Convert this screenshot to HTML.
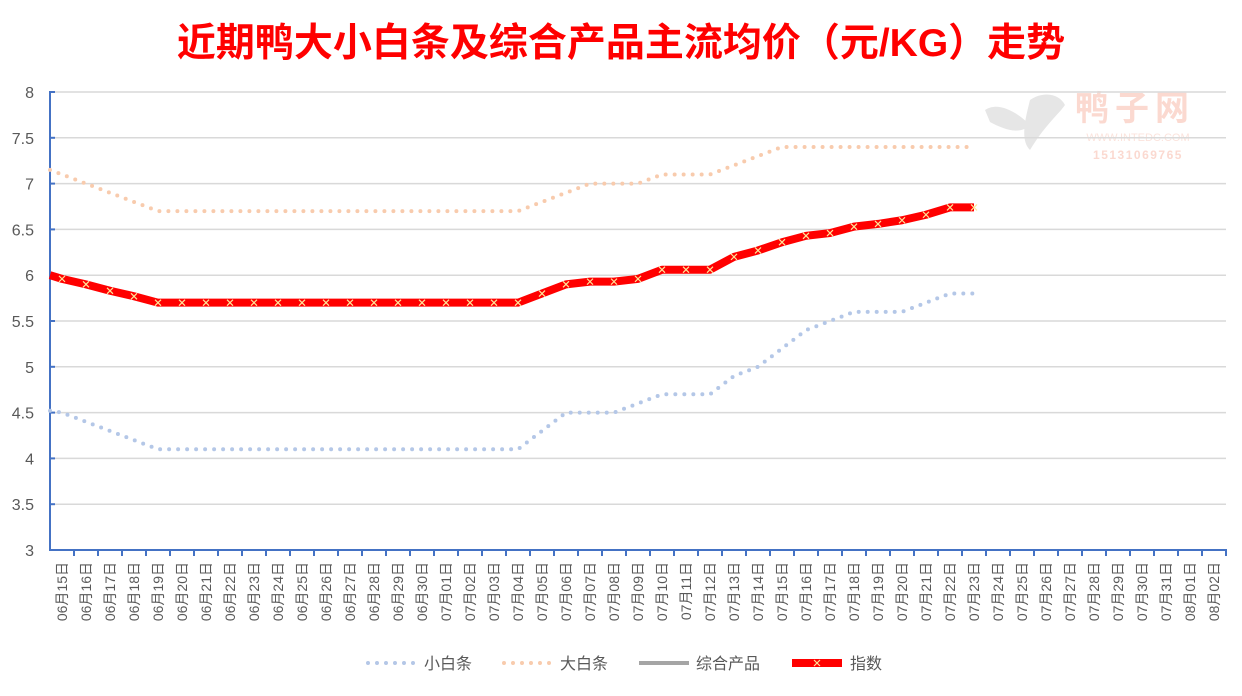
<!DOCTYPE html>
<html><head><meta charset="utf-8"><style>
body{margin:0;background:#fff;width:1242px;height:691px;overflow:hidden}
</style></head><body>
<svg id="s" width="1242" height="691" xmlns="http://www.w3.org/2000/svg" font-family="Liberation Sans, Noto Sans CJK SC, sans-serif"></svg>
<script>
const s=document.getElementById('s');let h='';
const Y=v=>550-(v-3)*91.6, X=i=>62+24*i;
h+='<text x="621" y="56" text-anchor="middle" font-size="39" font-weight="bold" fill="#ff0000" font-family="Liberation Sans, Noto Sans CJK SC, sans-serif">近期鸭大小白条及综合产品主流均价（元/KG）走势</text>';
h+='<text x="1135" y="120" text-anchor="middle" font-size="34" font-weight="bold" fill="#fbd9d0" letter-spacing="6">鸭子网</text>';
h+='<text x="1138" y="141" text-anchor="middle" font-size="11" fill="#fbe3dc">WWW.INTEDC.COM</text>';
h+='<text x="1138" y="159" text-anchor="middle" font-size="12" font-weight="bold" fill="#fbd9d0" letter-spacing="1.5">15131069765</text>';
h+='<path d="M985,110 C1000,100 1020,115 1030,125 C1020,135 1005,130 990,122 Z M1030,100 C1045,90 1060,95 1065,105 C1058,115 1045,125 1030,150 C1020,140 1025,120 1030,100 Z" fill="#e6e6e6"/>';
for(let k=0;k<=10;k++){const v=3+k*0.5,y=Y(v);
 if(k>0)h+=`<line x1="50" x2="1226" y1="${y}" y2="${y}" stroke="#d9d9d9" stroke-width="1.5"/>`;
 h+=`<line x1="50" x2="55" y1="${y}" y2="${y}" stroke="#4472c4" stroke-width="2"/>`;
 h+=`<text x="34" y="${y+6}" text-anchor="end" font-size="16" fill="#595959">${v}</text>`;}
h+='<line x1="50" x2="50" y1="91" y2="551" stroke="#4472c4" stroke-width="2"/><line x1="49" x2="1227" y1="550" y2="550" stroke="#4472c4" stroke-width="2"/>';
const labs=[];for(let d=15;d<=30;d++)labs.push('06月'+d+'日');for(let d=1;d<=31;d++)labs.push('07月'+String(d).padStart(2,'0')+'日');labs.push('08月01日','08月02日');
labs.forEach((l,i)=>{const x=50+24*(i+1);h+=`<line x1="${x}" x2="${x}" y1="550" y2="556" stroke="#4472c4" stroke-width="2"/>`;
 h+=`<text transform="translate(${X(i)+5},562) rotate(-90)" text-anchor="end" font-size="14" fill="#595959">${l}</text>`;});
function path(start,vals){let p=`M50,${Y(start)}`;vals.forEach((v,i)=>p+=` L${X(i)},${Y(v)}`);return p;}
const big=[7.1,7.0,6.9,6.8,6.7,...Array(15).fill(6.7),6.8,6.9,7.0,7.0,7.0,7.1,7.1,7.1,7.2,7.3,7.4,7.4,7.4,7.4,7.4,7.4,7.4,7.4,7.4];
const sm=[4.5,4.4,4.3,4.2,4.1,...Array(15).fill(4.1),4.3,4.5,4.5,4.5,4.6,4.7,4.7,4.7,4.9,5.0,5.2,5.4,5.5,5.6,5.6,5.6,5.7,5.8,5.8];
const red=[5.96,5.9,5.83,5.77,5.7,...Array(15).fill(5.7),5.8,5.9,5.93,5.93,5.96,6.06,6.06,6.06,6.2,6.27,6.36,6.43,6.46,6.53,6.56,6.6,6.66,6.74,6.74];
h+=`<path d="${path(7.15,big)}" fill="none" stroke="#f8cbad" stroke-width="4" stroke-linecap="round" stroke-dasharray="0 9"/>`;
h+=`<path d="${path(4.52,sm)}" fill="none" stroke="#b4c7e7" stroke-width="4" stroke-linecap="round" stroke-dasharray="0 9"/>`;
h+=`<path d="${path(6.0,red)}" fill="none" stroke="#ff0000" stroke-width="8" stroke-linejoin="round"/>`;
red.forEach((v,i)=>{const x=X(i),y=Y(v);h+=`<path d="M${x-3},${y-3}L${x+3},${y+3}M${x-3},${y+3}L${x+3},${y-3}" stroke="#ffe699" stroke-width="1.2"/>`;});
const ly=663;
h+=`<line x1="368" x2="416" y1="${ly}" y2="${ly}" stroke="#b4c7e7" stroke-width="4" stroke-linecap="round" stroke-dasharray="0 9"/><text x="424" y="${ly+6}" font-size="16" fill="#595959">小白条</text>`;
h+=`<line x1="504" x2="552" y1="${ly}" y2="${ly}" stroke="#f8cbad" stroke-width="4" stroke-linecap="round" stroke-dasharray="0 9"/><text x="560" y="${ly+6}" font-size="16" fill="#595959">大白条</text>`;
h+=`<line x1="639" x2="689" y1="${ly}" y2="${ly}" stroke="#a5a5a5" stroke-width="4"/><text x="696" y="${ly+6}" font-size="16" fill="#595959">综合产品</text>`;
h+=`<line x1="792" x2="842" y1="${ly}" y2="${ly}" stroke="#ff0000" stroke-width="8"/><path d="M814,${ly-3}L820,${ly+3}M814,${ly+3}L820,${ly-3}" stroke="#ffe699" stroke-width="1.2"/><text x="850" y="${ly+6}" font-size="16" fill="#595959">指数</text>`;
s.innerHTML=h;
</script>
</body></html>
